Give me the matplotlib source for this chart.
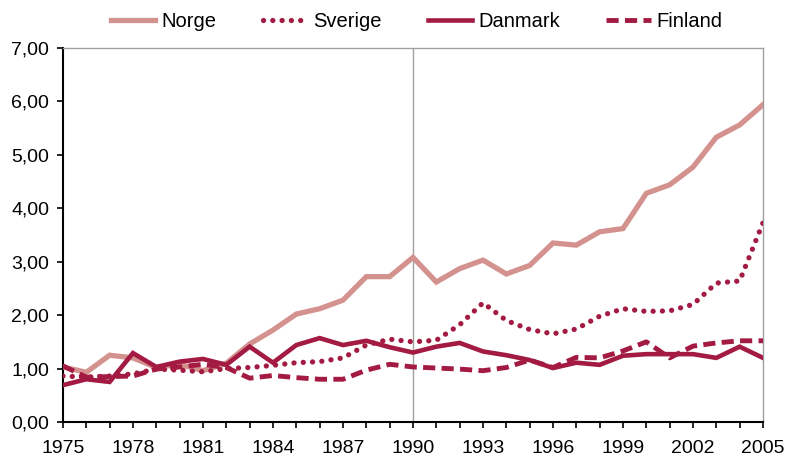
import matplotlib
matplotlib.use("Agg")
import matplotlib.pyplot as plt
from matplotlib.ticker import FuncFormatter, MultipleLocator

plt.rcParams["font.family"] = ["Liberation Sans", "DejaVu Sans"]

years = list(range(1975, 2006))
year_labels = list(range(1975, 2006, 3))

norge = [1.03, 0.93, 1.25, 1.20, 1.02, 1.08, 0.96, 1.10, 1.46, 1.72, 2.02, 2.12, 2.28, 2.72, 2.72,
         3.08, 2.62, 2.87, 3.03, 2.77, 2.93, 3.35, 3.31, 3.56, 3.62, 4.28, 4.44, 4.77, 5.33, 5.56, 5.94]
sverige = [0.86, 0.84, 0.86, 0.90, 0.99, 0.97, 0.94, 1.00, 1.02, 1.06, 1.11, 1.13, 1.20, 1.44, 1.55,
           1.50, 1.53, 1.82, 2.23, 1.90, 1.73, 1.65, 1.74, 1.98, 2.12, 2.07, 2.08, 2.20, 2.60, 2.64, 3.73]
danmark = [0.69, 0.80, 0.75, 1.29, 1.03, 1.13, 1.18, 1.07, 1.41, 1.11, 1.44, 1.57, 1.44, 1.52, 1.40,
           1.30, 1.41, 1.48, 1.32, 1.25, 1.16, 1.01, 1.11, 1.07, 1.24, 1.27, 1.27, 1.27, 1.20, 1.41, 1.20]
finland = [1.05, 0.84, 0.85, 0.86, 0.99, 1.03, 1.08, 1.02, 0.82, 0.87, 0.83, 0.80, 0.80, 0.97, 1.08,
           1.03, 1.01, 0.99, 0.96, 1.02, 1.16, 1.02, 1.21, 1.20, 1.33, 1.50, 1.20, 1.42, 1.48, 1.52, 1.52]

light = "#d4928f"
dark = "#a31a42"

fig = plt.figure(figsize=(7.91, 4.61), dpi=100)
ax = fig.add_axes([0.0796, 0.0846, 0.885, 0.8113])

ax.axvline(1990, color="#a0a0a0", lw=1.0, zorder=1)

ax.plot(years, norge, color=light, lw=3.8, solid_joinstyle="miter", label="Norge", zorder=3)
ax.plot(years, sverige, color=dark, lw=3.8, linestyle=(0, (0.01, 1.75)),
        dash_capstyle="round", label="Sverige", zorder=4)
ax.plot(years, danmark, color=dark, lw=3.3, solid_joinstyle="miter", label="Danmark", zorder=5)
ax.plot(years, finland, color=dark, lw=3.5, linestyle=(0, (2.5, 1.3)),
        dash_capstyle="butt", label="Finland", zorder=4)

ax.set_xlim(1975, 2005)
ax.set_ylim(0, 7)
ax.set_xticks(year_labels)
ax.xaxis.set_minor_locator(MultipleLocator(1))
ax.yaxis.set_major_locator(MultipleLocator(1))
ax.yaxis.set_major_formatter(FuncFormatter(lambda v, p: f"{v:.2f}".replace(".", ",")))

ax.tick_params(axis="both", which="both", direction="out", length=4, width=1.2,
               labelsize=14, color="black")
ax.tick_params(axis="x", pad=9)
ax.tick_params(axis="y", pad=6)

for side in ("top", "right"):
    ax.spines[side].set_color("#a0a0a0")
    ax.spines[side].set_linewidth(1.0)
for side in ("left", "bottom"):
    ax.spines[side].set_color("black")
    ax.spines[side].set_linewidth(1.5)

fig.legend(loc="center", bbox_to_anchor=(0.527, 0.953), ncol=4, frameon=False,
           fontsize=14.5, handlelength=2.2, handletextpad=0.3, columnspacing=2.3)

fig.savefig("out.png", dpi=100)
